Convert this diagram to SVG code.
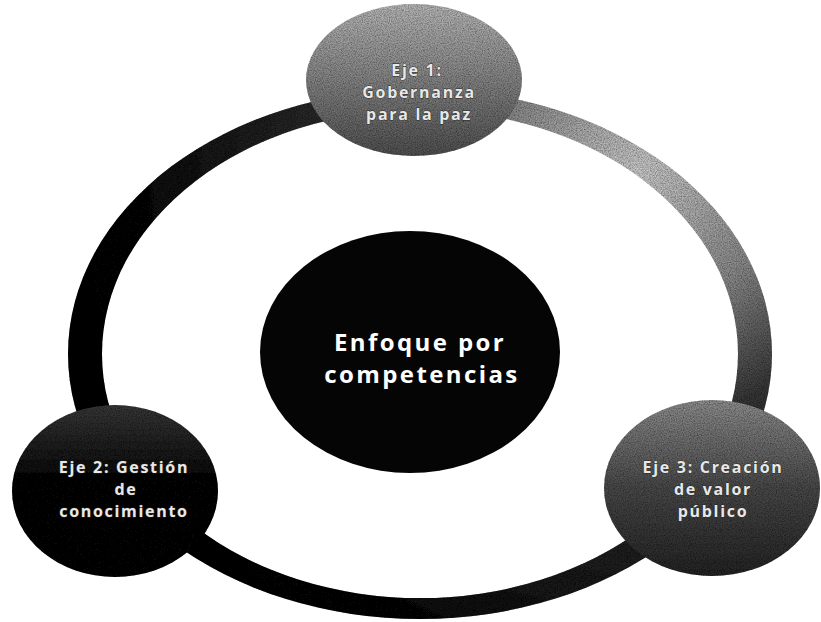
<svg xmlns="http://www.w3.org/2000/svg" width="821" height="622" viewBox="0 0 821 622">
<defs>
<radialGradient id="ringGrad" gradientUnits="userSpaceOnUse" cx="640" cy="170" r="560">
<stop offset="0" stop-color="#cacaca"/>
<stop offset="0.25" stop-color="#8a8a8a"/>
<stop offset="0.45" stop-color="#383838"/>
<stop offset="1" stop-color="#060606"/>
</radialGradient>
<linearGradient id="g1" x1="0" y1="0" x2="0" y2="1">
<stop offset="0" stop-color="#b8b8b8"/>
<stop offset="1" stop-color="#505050"/>
</linearGradient>
<linearGradient id="g2" x1="0" y1="0" x2="0" y2="1">
<stop offset="0" stop-color="#3a3a3a"/>
<stop offset="0.4" stop-color="#111"/>
<stop offset="1" stop-color="#0a0a0a"/>
</linearGradient>
<linearGradient id="g3" x1="0" y1="0" x2="0" y2="1">
<stop offset="0" stop-color="#8e8e8e"/>
<stop offset="0.5" stop-color="#4a4a4a"/>
<stop offset="1" stop-color="#262626"/>
</linearGradient>
<filter id="grain" filterUnits="userSpaceOnUse" x="0" y="0" width="821" height="622">
<feTurbulence type="fractalNoise" baseFrequency="0.85" numOctaves="2" seed="3" result="n"/>
<feColorMatrix in="n" type="matrix" values="0 0 0 0 0  0 0 0 0 0  0 0 0 0 0  0 0 0 1.2 -0.35" result="dots"/>
<feComposite in="dots" in2="SourceGraphic" operator="in" result="d2"/>
<feMerge><feMergeNode in="SourceGraphic"/><feMergeNode in="d2"/></feMerge>
</filter>
</defs>
<style>
.lbl{font-family:"Open Sans","DejaVu Sans",sans-serif;font-weight:bold;text-anchor:middle;}
.small{font-size:16px;fill:#e8e8e8;stroke:#2a2a2a;stroke-width:0.8;paint-order:stroke;letter-spacing:1.7px;}
.big{font-size:24px;fill:#ffffff;letter-spacing:2.4px;}
</style>
<g id="connectors">
<path d="M 68 354 a 352 265 0 1 0 704 0 a 352 265 0 1 0 -704 0 Z M 102 354 a 318 244 0 1 0 636 0 a 318 244 0 1 0 -636 0 Z" fill="url(#ringGrad)" fill-rule="evenodd" filter="url(#grain)"/>
</g>
<g id="node-centro">
<ellipse cx="410" cy="352" rx="150" ry="121" fill="#050505"/>
<text class="lbl big" x="420" y="351">Enfoque por</text>
<text class="lbl big" x="422" y="383">competencias</text>
</g>
<g id="node-eje1">
<ellipse cx="414" cy="80" rx="108" ry="76" fill="url(#g1)" filter="url(#grain)"/>
<text class="lbl small" x="417" y="76">Eje 1:</text>
<text class="lbl small" x="419" y="98">Gobernanza</text>
<text class="lbl small" x="419" y="120">para la paz</text>
</g>
<g id="node-eje2">
<ellipse cx="115" cy="491" rx="103" ry="86" fill="url(#g2)" filter="url(#grain)"/>
<text class="lbl small" x="124" y="473">Eje 2: Gestión</text>
<text class="lbl small" x="126" y="495">de</text>
<text class="lbl small" x="124" y="517">conocimiento</text>
</g>
<g id="node-eje3">
<ellipse cx="712" cy="488" rx="108" ry="88" fill="url(#g3)" filter="url(#grain)"/>
<text class="lbl small" x="713" y="473">Eje 3: Creación</text>
<text class="lbl small" x="713" y="495">de valor</text>
<text class="lbl small" x="713" y="517">público</text>
</g>
</svg>
